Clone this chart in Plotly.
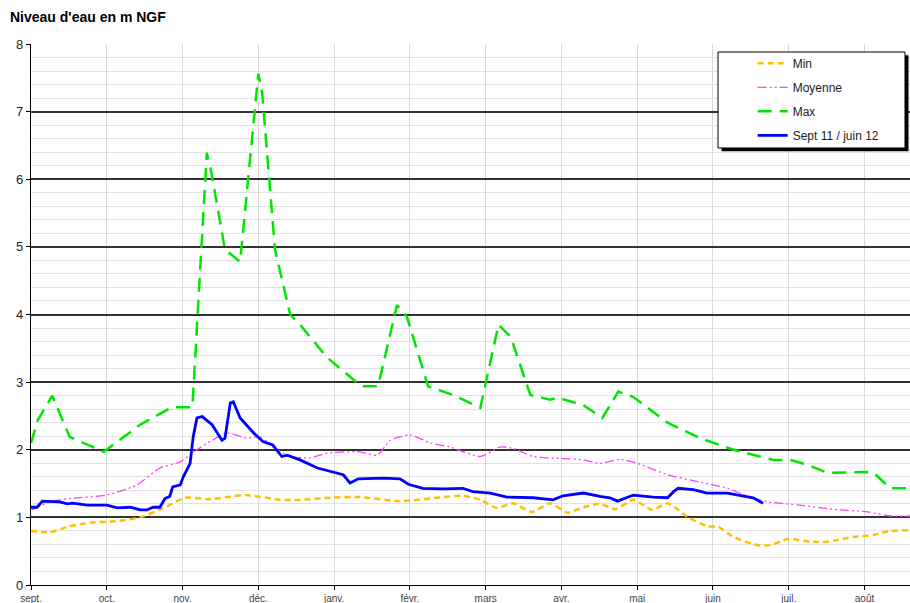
import plotly.graph_objects as go

# x positions in month units (0 = start of September)
month_labels = ["sept.", "oct.", "nov.", "déc.", "janv.", "févr.", "mars", "avr.", "mai", "juin", "juil.", "août"]
month_ticks = list(range(12))

max_x = [0, 0.09, 0.28, 0.51, 0.96, 1.44, 1.86, 2.13, 2.32, 2.38, 2.56, 2.76, 3.0, 3.05, 3.22, 3.42,
         3.55, 3.91, 4.36, 4.58, 4.83, 4.96, 5.24, 5.57, 5.93, 6.17, 6.33, 6.59, 6.85, 6.95, 7.29,
         7.54, 7.75, 7.95, 8.40, 8.83, 9.27, 9.80, 10.02, 10.24, 10.51, 10.77, 11.04, 11.12, 11.34, 11.6]
max_y = [2.10, 2.44, 2.80, 2.19, 1.97, 2.37, 2.63, 2.63, 6.39, 6.10, 4.96, 4.78, 7.56, 7.28, 4.96, 4.00,
         3.85, 3.36, 2.94, 2.94, 4.14, 3.97, 2.94, 2.81, 2.62, 3.85, 3.67, 2.81, 2.74, 2.77, 2.66,
         2.47, 2.86, 2.78, 2.40, 2.17, 2.00, 1.85, 1.85, 1.78, 1.66, 1.67, 1.67, 1.66, 1.43, 1.43]

min_x = [0, 0.25, 0.51, 0.78, 1.17, 1.44, 1.77, 2.03, 2.36, 2.83, 3.29, 3.55, 3.95, 4.34, 4.87, 5.70,
         5.93, 6.15, 6.36, 6.61, 6.85, 7.08, 7.29, 7.51, 7.71, 7.95, 8.20, 8.40, 8.66, 8.92, 9.07,
         9.27, 9.58, 9.76, 9.99, 10.28, 10.51, 10.85, 11.12, 11.34, 11.6]
min_y = [0.80, 0.78, 0.87, 0.92, 0.95, 1.00, 1.15, 1.29, 1.27, 1.33, 1.26, 1.26, 1.29, 1.30, 1.24, 1.32,
         1.26, 1.14, 1.21, 1.08, 1.21, 1.07, 1.15, 1.20, 1.12, 1.26, 1.11, 1.21, 1.01, 0.87, 0.86,
         0.71, 0.59, 0.59, 0.68, 0.64, 0.64, 0.71, 0.74, 0.80, 0.81]

moy_x = [0.01, 0.25, 0.51, 1.0, 1.40, 1.70, 1.97, 2.19, 2.39, 2.59, 2.85, 3.02, 3.25, 3.42, 3.68, 3.91,
         4.34, 4.57, 4.74, 5.00, 5.27, 5.53, 5.93, 6.19, 6.36, 6.63, 7.02, 7.29, 7.51, 7.78, 8.00,
         8.40, 8.83, 9.19, 9.49, 9.72, 10.15, 10.59, 11.04, 11.34, 11.6]
moy_y = [1.11, 1.23, 1.28, 1.33, 1.48, 1.73, 1.82, 2.00, 2.14, 2.25, 2.17, 2.19, 2.00, 1.90, 1.88, 1.95,
         1.97, 1.92, 2.14, 2.22, 2.10, 2.04, 1.90, 2.04, 2.02, 1.90, 1.87, 1.85, 1.80, 1.86, 1.80,
         1.63, 1.52, 1.43, 1.30, 1.23, 1.18, 1.12, 1.08, 1.02, 1.02]

cur_x = [0, 0.08, 0.15, 0.38, 0.48, 0.55, 0.74, 1.0, 1.14, 1.31, 1.44, 1.53, 1.61, 1.70, 1.77, 1.83,
         1.87, 1.97, 2.01, 2.10, 2.14, 2.19, 2.26, 2.39, 2.52, 2.56, 2.63, 2.67, 2.76, 2.93, 3.06,
         3.19, 3.31, 3.38, 3.55, 3.78, 4.12, 4.21, 4.32, 4.65, 4.87, 4.98, 5.17, 5.44, 5.70, 5.83,
         6.06, 6.28, 6.63, 6.89, 7.02, 7.29, 7.51, 7.64, 7.74, 7.95, 8.21, 8.40, 8.48, 8.54, 8.74,
         8.92, 9.19, 9.36, 9.53, 9.66]
cur_y = [1.15, 1.15, 1.24, 1.23, 1.20, 1.21, 1.18, 1.18, 1.14, 1.15, 1.11, 1.11, 1.15, 1.15, 1.28, 1.31,
         1.45, 1.48, 1.60, 1.80, 2.19, 2.47, 2.49, 2.37, 2.14, 2.17, 2.69, 2.71, 2.47, 2.26, 2.12,
         2.07, 1.90, 1.92, 1.85, 1.73, 1.63, 1.51, 1.57, 1.58, 1.57, 1.49, 1.43, 1.42, 1.43, 1.38,
         1.36, 1.30, 1.29, 1.26, 1.32, 1.36, 1.31, 1.29, 1.24, 1.33, 1.30, 1.29, 1.38, 1.43, 1.41,
         1.36, 1.36, 1.32, 1.29, 1.21]

fig = go.Figure()
fig.add_trace(go.Scatter(x=min_x, y=min_y, name="Min", mode="lines", legendgroup="a",
                         line=dict(color="#FFC000", width=2.5, dash="6px,4px", shape="spline", smoothing=0.6)))
fig.add_trace(go.Scatter(x=moy_x, y=moy_y, name="Moyenne", mode="lines", legendgroup="b",
                         line=dict(color="#FF40FF", width=1.3, dash="9px,3px,2px,3px,2px,3px", shape="spline", smoothing=0.6)))
fig.add_trace(go.Scatter(x=max_x, y=max_y, name="Max", mode="lines", legendgroup="c",
                         line=dict(color="#00E600", width=2.5, dash="14px,8px")))
fig.add_trace(go.Scatter(x=cur_x, y=cur_y, name="Sept 11 / juin 12", mode="lines", legendgroup="d",
                         line=dict(color="#0000FF", width=2.8)))

# legend box with shadow
lx0, lx1, ly0, ly1 = 0.7816, 0.9943, 0.8078, 0.9852
fig.add_shape(type="rect", xref="paper", yref="paper", x0=lx0 + 0.004, x1=lx1 + 0.004,
              y0=ly0 - 0.006, y1=ly1 - 0.006, fillcolor="black", line=dict(width=0), layer="above")
fig.add_shape(type="rect", xref="paper", yref="paper", x0=lx0, x1=lx1, y0=ly0, y1=ly1,
              fillcolor="white", line=dict(color="black", width=1), layer="above")

fig.add_annotation(text="<b>Niveau d'eau en m NGF</b>", xref="paper", yref="paper",
                   x=-0.026, y=1.049, xanchor="left", yanchor="middle", showarrow=False,
                   font=dict(family="Liberation Sans, Arial", size=14, color="black"))

fig.update_layout(
    width=910, height=603,
    margin=dict(l=31, r=0, t=44, b=18, autoexpand=False),
    paper_bgcolor="white", plot_bgcolor="white",
    font=dict(family="Liberation Sans, Arial", color="#222"),
    legend=dict(x=0.821, y=0.991, xanchor="left", yanchor="top", bgcolor="rgba(0,0,0,0)",
                borderwidth=0, font=dict(size=12, color="#222"), tracegroupgap=5,
                traceorder="grouped"),
    xaxis=dict(range=[0, 11.6], tickvals=month_ticks, ticktext=month_labels,
               showgrid=True, gridcolor="#d9d9d9", gridwidth=1,
               showline=True, linecolor="black", linewidth=1.2,
               ticks="outside", ticklen=4, tickcolor="black", automargin=False,
               tickfont=dict(size=10, color="#444"), zeroline=False),
    yaxis=dict(range=[0, 8], dtick=1, showgrid=True, gridcolor="#333", gridwidth=1.5,
               minor=dict(dtick=0.2, showgrid=True, gridcolor="#e2e2e2", gridwidth=1, ticks=""),
               showline=True, linecolor="black", linewidth=1.2, automargin=False,
               ticks="outside", ticklen=4, tickcolor="black",
               tickfont=dict(size=13, color="#222"), zeroline=False),
    showlegend=True,
)

# remove the page's default body margin so the figure fills the 910x603 window exactly
fig.write_html("out.html", config={"displayModeBar": False},
               post_script="document.body.style.margin='0';document.body.style.overflow='hidden';")
